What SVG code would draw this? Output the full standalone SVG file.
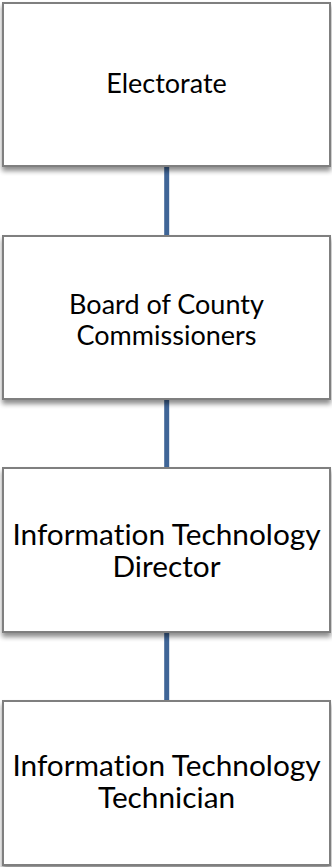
<svg xmlns="http://www.w3.org/2000/svg" width="332" height="867" viewBox="0 0 332 867">
<defs>
<filter id="sh" x="-5%" y="-5%" width="110%" height="125%">
<feGaussianBlur in="SourceAlpha" stdDeviation="2.5"/>
<feOffset dx="0" dy="4" result="b"/>
<feComponentTransfer><feFuncA type="linear" slope="0.45"/></feComponentTransfer>
<feMerge><feMergeNode/><feMergeNode in="SourceGraphic"/></feMerge>
</filter>
<style>
.box{fill:#ffffff;stroke:#7f7f7f;stroke-width:2;filter:url(#sh)}
.t1{font-family:Lato,"Open Sans",sans-serif;font-size:27px;fill:#000;text-anchor:middle;font-variant-ligatures:none}
.t2{font-family:Lato,"Open Sans",sans-serif;font-size:29.8px;fill:#000;text-anchor:middle;font-variant-ligatures:none}
.con{stroke:#3f6597;stroke-width:5;fill:none}
</style>
</defs>
<g id="connectors">
<line class="con" x1="166.7" y1="166" x2="166.7" y2="236"/>
<line class="con" x1="166.7" y1="399" x2="166.7" y2="468"/>
<line class="con" x1="166.7" y1="632" x2="166.7" y2="701"/>
</g>
<g id="electorate">
<rect class="box" x="3" y="3" width="327" height="163"/>
<text class="t1" x="166.5" y="93.3">Electorate</text>
</g>
<g id="board">
<rect class="box" x="3" y="236" width="327" height="163"/>
<text class="t1" x="166.5" y="313.5">Board of County</text>
<text class="t1" x="166.5" y="344.5">Commissioners</text>
</g>
<g id="director">
<rect class="box" x="3" y="468" width="327" height="164"/>
<text class="t2" x="166.5" y="545">Information Technology</text>
<text class="t2" x="166.5" y="577">Director</text>
</g>
<g id="technician">
<rect class="box" x="3" y="701" width="327" height="164"/>
<text class="t2" x="166.5" y="776">Information Technology</text>
<text class="t2" x="166.5" y="808">Technician</text>
</g>
</svg>
